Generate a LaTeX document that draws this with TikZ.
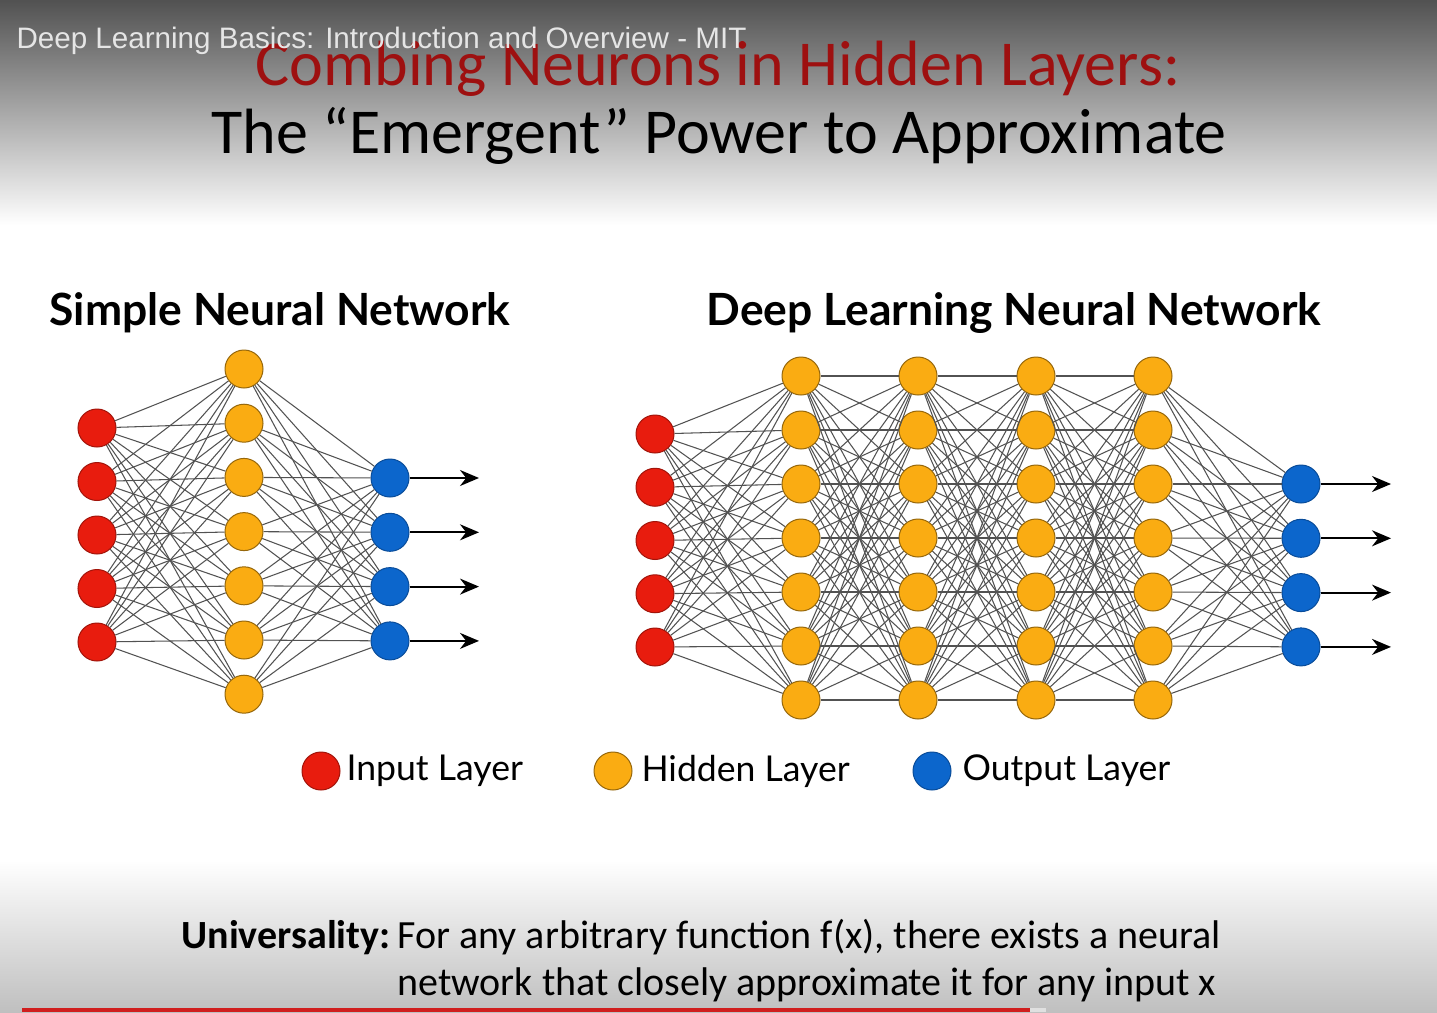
\documentclass[tikz,border=0pt]{standalone}
\usepackage{fontspec}
\setmainfont{Carlito}
\newfontfamily\headfont{Lato}
\newfontfamily\barfont{Liberation Sans}
\usetikzlibrary{arrows.meta}

\definecolor{inred}{RGB}{232,28,14}
\definecolor{hidorange}{RGB}{250,172,18}
\definecolor{outblue}{RGB}{12,102,204}
\definecolor{titlered}{RGB}{158,16,16}
\definecolor{barred}{RGB}{208,30,30}

\begin{document}
\begin{tikzpicture}[x=1pt, y=-1pt, >={Stealth[length=19pt,width=16pt]},
    neuron/.style={circle, inner sep=0pt, minimum size=38pt, line width=1pt},
    innode/.style={neuron, fill=inred, draw=inred!70!black},
    hidnode/.style={neuron, fill=hidorange, draw=hidorange!60!black},
    outnode/.style={neuron, fill=outblue, draw=outblue!75!black},
    link/.style={draw=black!68, line width=1.05pt},
    outarrow/.style={->, line width=1.9pt}]
    \useasboundingbox (0,0) rectangle (1437,1012);
    % background
    \shade[top color=black!68, bottom color=white] (0,0) rectangle (1437,225);
    \fill[white] (0,225) rectangle (1437,860);
    \shade[top color=white, bottom color=black!25] (0,860) rectangle (1437,1012);
    \fill[barred] (22,1008) rectangle (1030,1012);
    \fill[black!12] (1030,1008) rectangle (1046,1012);

    % titles
    \node[anchor=base, text=titlered, font=\fontsize{64}{70}\selectfont] (title) at (718,85) {Combing Neurons in Hidden Layers:};
    \node[anchor=base, font=\fontsize{64}{70}\selectfont] (subtitle) at (719,153) {The “Emergent” Power to Approximate};
    \node[anchor=base west, text=black!10, font=\barfont\fontsize{29.6}{32}\selectfont] (video) at (13,48) {Deep Learning Basics: Introduction and Overview - MIT};

    \node[anchor=base, font=\headfont\bfseries\fontsize{44.4}{48}\selectfont] (simplehead) at (280,325) {Simple Neural Network};
    \node[anchor=base, font=\headfont\bfseries\fontsize{44.4}{48}\selectfont] (deephead) at (1014,325) {Deep Learning Neural Network};

    % simple network
    \foreach \i in {1,...,5}
        \node[innode] (si\i) at (97,{428+53.5*(\i-1)}) {};
    \foreach \j in {1,...,7}
        \node[hidnode] (sh\j) at (244,{369+54.2*(\j-1)}) {};
    \foreach \k in {1,...,4} {
        \node[outnode] (so\k) at (390,{478+54.3*(\k-1)}) {};
        \coordinate (sa\k) at (479,{478+54.3*(\k-1)});
    }
    \foreach \i in {1,...,5}
        \foreach \j in {1,...,7}
            \draw[link] (si\i) -- (sh\j);
    \foreach \j in {1,...,7}
        \foreach \k in {1,...,4}
            \draw[link] (sh\j) -- (so\k);
    \foreach \k in {1,...,4}
        \draw[outarrow] (so\k) -- (sa\k);

    % deep network
    \foreach \i in {1,...,5}
        \node[innode] (di\i) at (655,{434+53.25*(\i-1)}) {};
    \foreach \l/\x in {1/801,2/918,3/1036,4/1153}
        \foreach \j in {1,...,7}
            \node[hidnode] (dh\l-\j) at (\x,{376+54*(\j-1)}) {};
    \foreach \k in {1,...,4} {
        \node[outnode] (do\k) at (1301,{484+54.3*(\k-1)}) {};
        \coordinate (da\k) at (1391,{484+54.3*(\k-1)});
    }
    \foreach \i in {1,...,5}
        \foreach \j in {1,...,7}
            \draw[link] (di\i) -- (dh1-\j);
    \foreach \l/\m in {1/2,2/3,3/4}
        \foreach \j in {1,...,7}
            \foreach \n in {1,...,7}
                \draw[link] (dh\l-\j) -- (dh\m-\n);
    \foreach \j in {1,...,7}
        \foreach \k in {1,...,4}
            \draw[link] (dh4-\j) -- (do\k);
    \foreach \k in {1,...,4}
        \draw[outarrow] (do\k) -- (da\k);

    % legend
    \node[innode] (keyin) at (321,771) {};
    \node[anchor=west, font=\headfont\fontsize{35.6}{38}\selectfont] (keyintext) at (343,771) {Input Layer};
    \node[hidnode] (keyhid) at (613,771) {};
    \node[anchor=west, font=\headfont\fontsize{35.6}{38}\selectfont] (keyhidtext) at (638,771) {Hidden Layer};
    \node[outnode] (keyout) at (932,771) {};
    \node[anchor=west, font=\headfont\fontsize{35.6}{38}\selectfont] (keyouttext) at (959,771) {Output Layer};

    % universality statement
    \node[anchor=base east, font=\bfseries\fontsize{40}{44}\selectfont] (univ) at (394,948) {Universality:};
    \node[anchor=base west, font=\fontsize{40}{44}\selectfont] (univline1) at (394,948) {For any arbitrary function f(x), there exists a neural};
    \node[anchor=base west, font=\fontsize{40}{44}\selectfont] (univline2) at (394,995) {network that closely approximate it for any input x};
\end{tikzpicture}
\end{document}
